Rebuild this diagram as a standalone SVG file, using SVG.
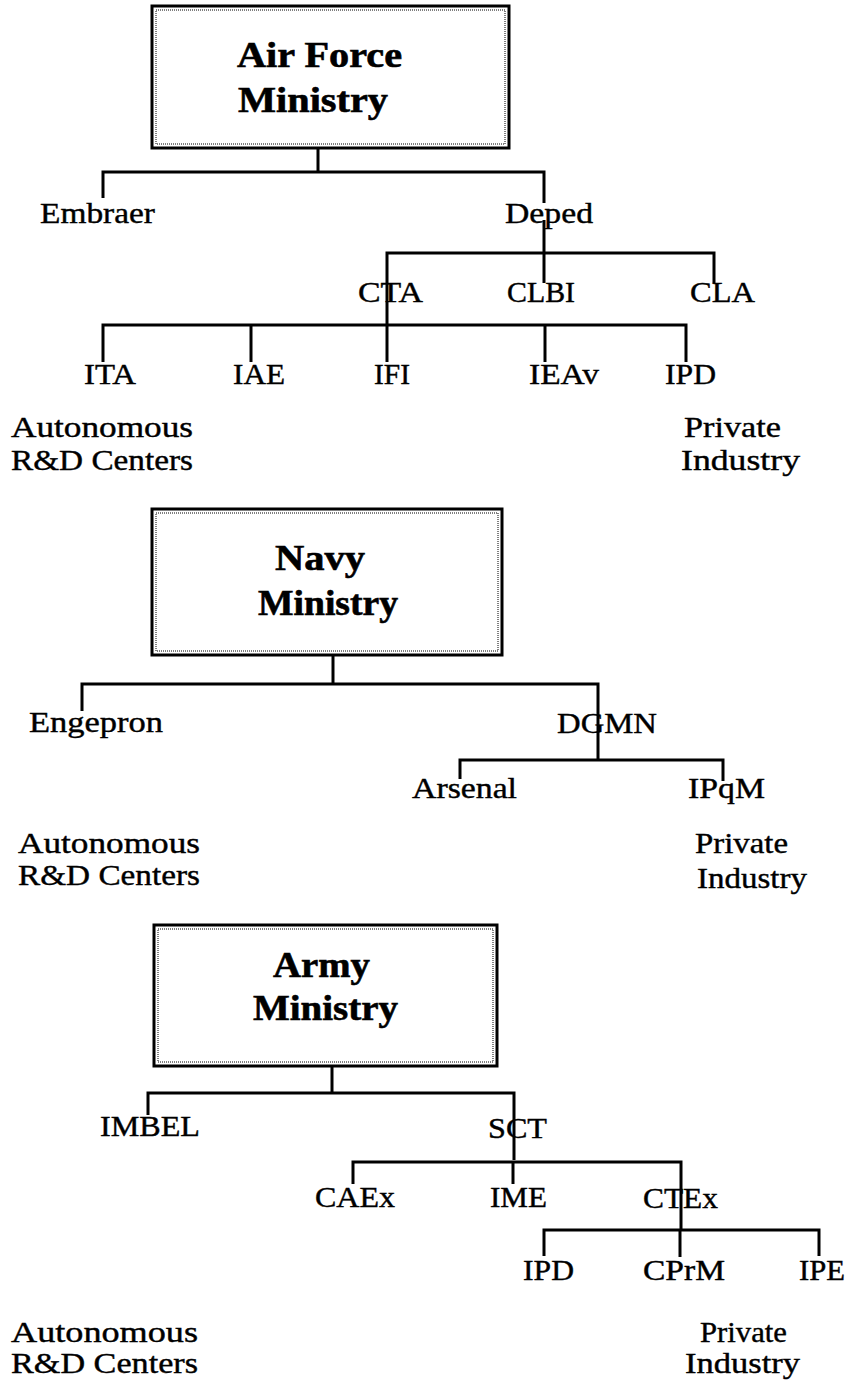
<svg xmlns="http://www.w3.org/2000/svg" width="851" height="1391" viewBox="0 0 851 1391">
<style>
.bg{fill:#fff}
.box{fill:#fff;stroke:#000;stroke-width:3}
.inner{fill:none;stroke:#000;stroke-width:1;stroke-dasharray:1 1}
.title{font-family:"Liberation Serif",serif;font-weight:bold;font-size:36px;fill:#000;stroke:#000;stroke-width:0.6;text-anchor:middle}
.lbl{font-family:"Liberation Serif",serif;font-size:29px;fill:#000;stroke:#000;stroke-width:0.4}
.conn{fill:none;stroke:#000;stroke-width:3;stroke-linejoin:miter;stroke-linecap:butt}
</style>
<rect class="bg" x="0" y="0" width="851" height="1391"/>

<g id="connectors">
  <!-- Air Force -->
  <path class="conn" d="M318 148V172"/>
  <path class="conn" d="M103 198V172H544V203"/>
  <path class="conn" d="M544 220V253"/>
  <path class="conn" d="M387 283V253H714V283"/>
  <path class="conn" d="M544 253V283"/>
  <path class="conn" d="M387 283V362"/>
  <path class="conn" d="M103 362V325H686V362"/>
  <path class="conn" d="M251 325V362"/>
  <path class="conn" d="M545 325V362"/>
  <!-- Navy -->
  <path class="conn" d="M333 655V684"/>
  <path class="conn" d="M82 711V684H598V760"/>
  <path class="conn" d="M460 779V760H723V781"/>
  <!-- Army -->
  <path class="conn" d="M332 1066V1093"/>
  <path class="conn" d="M148 1115V1093H514V1160"/>
  <path class="conn" d="M353 1184V1162H681V1230"/>
  <path class="conn" d="M513 1162V1184"/>
  <path class="conn" d="M544 1256V1230H819V1256"/>
  <path class="conn" d="M680 1230V1257"/>
</g>

<g id="airforce">
  <rect class="box" x="152" y="6" width="357" height="142"/>
  <rect class="inner" x="156" y="10" width="349" height="134"/>
  <text class="title" x="319.5" y="67" textLength="165" lengthAdjust="spacingAndGlyphs">Air Force</text>
  <text class="title" x="313" y="112" textLength="150" lengthAdjust="spacingAndGlyphs">Ministry</text>
</g>
<g id="embraer"><text class="lbl" x="40" y="223" textLength="115" lengthAdjust="spacingAndGlyphs">Embraer</text></g>
<g id="deped"><text class="lbl" x="505" y="223" textLength="88" lengthAdjust="spacingAndGlyphs">Deped</text></g>
<g id="cta"><text class="lbl" x="358" y="302" textLength="65" lengthAdjust="spacingAndGlyphs">CTA</text></g>
<g id="clbi"><text class="lbl" x="507" y="302" textLength="68" lengthAdjust="spacingAndGlyphs">CLBI</text></g>
<g id="cla"><text class="lbl" x="690" y="302" textLength="65" lengthAdjust="spacingAndGlyphs">CLA</text></g>
<g id="ita"><text class="lbl" x="84" y="384" textLength="52" lengthAdjust="spacingAndGlyphs">ITA</text></g>
<g id="iae"><text class="lbl" x="233" y="384" textLength="52" lengthAdjust="spacingAndGlyphs">IAE</text></g>
<g id="ifi"><text class="lbl" x="374" y="384" textLength="36" lengthAdjust="spacingAndGlyphs">IFI</text></g>
<g id="ieav"><text class="lbl" x="529" y="384" textLength="70" lengthAdjust="spacingAndGlyphs">IEAv</text></g>
<g id="ipd1"><text class="lbl" x="665" y="384" textLength="51" lengthAdjust="spacingAndGlyphs">IPD</text></g>
<g id="auto1">
  <text class="lbl" x="11" y="437" textLength="182" lengthAdjust="spacingAndGlyphs">Autonomous</text>
  <text class="lbl" x="11" y="470" textLength="182" lengthAdjust="spacingAndGlyphs">R&amp;D Centers</text>
</g>
<g id="priv1">
  <text class="lbl" x="684" y="437" textLength="97" lengthAdjust="spacingAndGlyphs">Private</text>
  <text class="lbl" x="681" y="470" textLength="119" lengthAdjust="spacingAndGlyphs">Industry</text>
</g>

<g id="navy">
  <rect class="box" x="152" y="509" width="350" height="146"/>
  <rect class="inner" x="156" y="513" width="342" height="138"/>
  <text class="title" x="320" y="570" textLength="90" lengthAdjust="spacingAndGlyphs">Navy</text>
  <text class="title" x="328" y="615" textLength="140" lengthAdjust="spacingAndGlyphs">Ministry</text>
</g>
<g id="engepron"><text class="lbl" x="29" y="732" textLength="134" lengthAdjust="spacingAndGlyphs">Engepron</text></g>
<g id="dgmn"><text class="lbl" x="557" y="733" textLength="100" lengthAdjust="spacingAndGlyphs">DGMN</text></g>
<g id="arsenal"><text class="lbl" x="412" y="798" textLength="105" lengthAdjust="spacingAndGlyphs">Arsenal</text></g>
<g id="ipqm"><text class="lbl" x="688" y="798" textLength="77" lengthAdjust="spacingAndGlyphs">IPqM</text></g>
<g id="auto2">
  <text class="lbl" x="18" y="853" textLength="182" lengthAdjust="spacingAndGlyphs">Autonomous</text>
  <text class="lbl" x="18" y="885" textLength="182" lengthAdjust="spacingAndGlyphs">R&amp;D Centers</text>
</g>
<g id="priv2">
  <text class="lbl" x="695" y="853" textLength="93" lengthAdjust="spacingAndGlyphs">Private</text>
  <text class="lbl" x="697" y="888" textLength="110" lengthAdjust="spacingAndGlyphs">Industry</text>
</g>

<g id="army">
  <rect class="box" x="154" y="925" width="343" height="141"/>
  <rect class="inner" x="158" y="929" width="335" height="133"/>
  <text class="title" x="321.5" y="977" textLength="97" lengthAdjust="spacingAndGlyphs">Army</text>
  <text class="title" x="325.5" y="1020" textLength="145" lengthAdjust="spacingAndGlyphs">Ministry</text>
</g>
<g id="imbel"><text class="lbl" x="100" y="1136" textLength="100" lengthAdjust="spacingAndGlyphs">IMBEL</text></g>
<g id="sct"><text class="lbl" x="488" y="1138" textLength="59" lengthAdjust="spacingAndGlyphs">SCT</text></g>
<g id="caex"><text class="lbl" x="315" y="1207" textLength="80" lengthAdjust="spacingAndGlyphs">CAEx</text></g>
<g id="ime"><text class="lbl" x="490" y="1207" textLength="57" lengthAdjust="spacingAndGlyphs">IME</text></g>
<g id="ctex"><text class="lbl" x="643" y="1208" textLength="75" lengthAdjust="spacingAndGlyphs">CTEx</text></g>
<g id="ipd2"><text class="lbl" x="523" y="1280" textLength="51" lengthAdjust="spacingAndGlyphs">IPD</text></g>
<g id="cprm"><text class="lbl" x="643" y="1280" textLength="82" lengthAdjust="spacingAndGlyphs">CPrM</text></g>
<g id="ipe"><text class="lbl" x="799" y="1280" textLength="46" lengthAdjust="spacingAndGlyphs">IPE</text></g>
<g id="auto3">
  <text class="lbl" x="11" y="1342" textLength="187" lengthAdjust="spacingAndGlyphs">Autonomous</text>
  <text class="lbl" x="11" y="1373" textLength="187" lengthAdjust="spacingAndGlyphs">R&amp;D Centers</text>
</g>
<g id="priv3">
  <text class="lbl" x="700" y="1342" textLength="87" lengthAdjust="spacingAndGlyphs">Private</text>
  <text class="lbl" x="685" y="1373" textLength="115" lengthAdjust="spacingAndGlyphs">Industry</text>
</g>
</svg>
